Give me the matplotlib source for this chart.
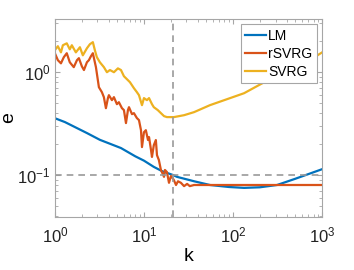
import numpy as np
import matplotlib
matplotlib.use('Agg')
import matplotlib.pyplot as plt

plt.rcParams['font.family'] = ['Liberation Sans', 'DejaVu Sans']

# LM - smooth curve
k_lm = [1, 1.3, 2.29, 3.2, 5.52, 8.0, 10, 12.9, 16.0, 21.2, 23.5, 36.5, 55, 90, 133, 200, 312, 500, 1000]
e_lm = [0.357, 0.327, 0.256, 0.22, 0.183, 0.152, 0.138, 0.12, 0.109, 0.1, 0.096, 0.087, 0.08, 0.0765, 0.075, 0.076, 0.08, 0.092, 0.114]

# rSVRG - noisy then flat
k_r = [1, 1.08, 1.17, 1.26, 1.36, 1.47, 1.63, 1.77, 1.86, 2.01, 2.12, 2.29, 2.41, 2.54, 2.67,
       2.89, 3.12, 3.37, 3.55, 3.74, 3.94, 4.04, 4.37, 4.6, 4.97, 5.23, 5.66, 5.96, 6.28, 6.61,
       6.79, 7.34, 7.71, 8.33, 8.79, 9.26, 9.5, 10.0, 10.5, 11.1, 11.4, 12.0, 12.3, 12.9, 13.6,
       14.0, 14.7, 15.5, 16.8, 17.2, 18.1, 19.1, 20.1, 20.6, 21.7, 22.9, 24.1, 26.0, 28.2, 30.5,
       32.7, 36.5, 1000]
e_r = [1.53, 1.31, 1.22, 1.40, 1.53, 1.25, 1.12, 1.31, 1.37, 1.14, 1.05, 1.25, 1.31, 1.43, 1.53,
       1.12, 0.715, 0.64, 0.572, 0.447, 0.56, 0.598, 0.535, 0.572, 0.489, 0.511, 0.447, 0.428, 0.32, 0.428,
       0.457, 0.391, 0.40, 0.358, 0.342, 0.273, 0.187, 0.261, 0.273, 0.219, 0.234, 0.175, 0.15, 0.195, 0.219,
       0.156, 0.14, 0.112, 0.096, 0.112, 0.107, 0.084, 0.098, 0.096, 0.089, 0.080, 0.087, 0.084, 0.078, 0.082,
       0.078, 0.080, 0.080]

# SVRG - noisy then rising
k_s = [1, 1.08, 1.17, 1.23, 1.36, 1.47, 1.55, 1.72, 1.91, 2.06, 2.29, 2.47, 2.67, 2.81, 2.96,
       3.2, 3.55, 3.84, 4.15, 4.6, 5.1, 5.52, 5.96, 6.28, 6.96, 7.71, 8.33, 8.79, 9.5, 10.0,
       10.8, 11.4, 12.3, 12.9, 14.3, 15.5, 16.8, 18.1, 21.7, 28.2, 36.5, 55, 133, 312, 566, 1000]
e_s = [1.64, 1.79, 1.56, 1.83, 1.91, 1.67, 1.83, 1.56, 1.75, 1.46, 1.71, 1.87, 1.96, 1.64, 1.40,
       1.25, 1.12, 1.0, 1.05, 1.0, 1.09, 1.05, 0.914, 0.874, 0.80, 0.70, 0.64, 0.598, 0.478, 0.56,
       0.535, 0.56, 0.489, 0.457, 0.428, 0.40, 0.374, 0.366, 0.366, 0.382, 0.409, 0.478, 0.625, 0.935, 1.14, 1.56]

k_mark = 21.2
e_mark = 0.1

fig = plt.figure(figsize=(3.54, 2.70), dpi=100)
ax = fig.add_axes([0.155, 0.196, 0.755, 0.734])

ax.plot(k_lm, e_lm, color='#0072BD', lw=1.6, label='LM')
ax.plot(k_r, e_r, color='#D95319', lw=1.6, label='rSVRG')
ax.plot(k_s, e_s, color='#EDB120', lw=1.6, label='SVRG')
ax.axvline(k_mark, color='#999999', ls='--', lw=1.2, dashes=(4, 3))
ax.axhline(e_mark, color='#999999', ls='--', lw=1.2, dashes=(4, 3))

ax.set_xscale('log')
ax.set_yscale('log')
ax.set_xlim(1, 1000)
ax.set_ylim(0.039, 3.3)
ax.set_xlabel('k', fontsize=14, labelpad=2)
ax.set_ylabel('e', fontsize=14, labelpad=0)
for s in ax.spines.values():
    s.set_color('#a6a6a6')
    s.set_linewidth(0.8)
ax.tick_params(which='both', direction='in', top=True, right=True, color='#a6a6a6', labelsize=12, labelcolor='#222222')
ax.tick_params(which='major', length=3.5)
ax.tick_params(which='minor', length=2)
ax.tick_params(axis='x', pad=6)
ax.tick_params(axis='y', pad=3)

leg = ax.legend(loc='upper right', fontsize=10, handlelength=1.5, handletextpad=0.15,
                borderpad=0.3, labelspacing=0.3, fancybox=False, framealpha=1,
                borderaxespad=0.4)
leg.get_frame().set_edgecolor('#a6a6a6')
leg.get_frame().set_linewidth(0.8)

fig.savefig('out.png', dpi=100)
